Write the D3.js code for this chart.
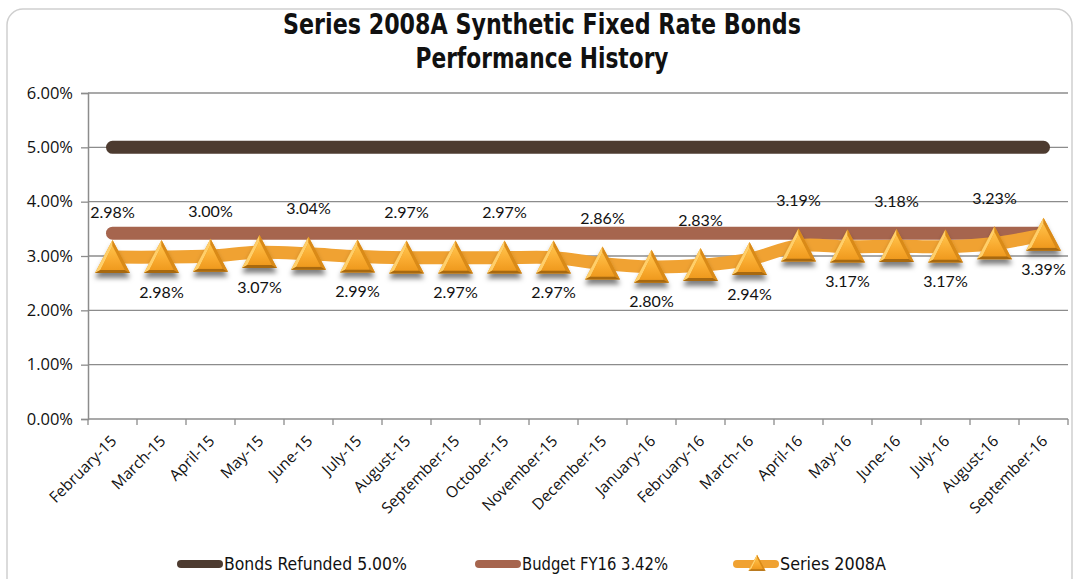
<!DOCTYPE html>
<html>
<head>
<meta charset="utf-8">
<script src="https://cdn.jsdelivr.net/npm/d3@7"></script>
<style>
  body { margin: 0; background: #fff; }
  svg { display: block; }
</style>
</head>
<body>
<svg id="chart" width="1076" height="579"></svg>
<script>

var months = ["February-15", "March-15", "April-15", "May-15", "June-15", "July-15", "August-15",
              "September-15", "October-15", "November-15", "December-15", "January-16", "February-16",
              "March-16", "April-16", "May-16", "June-16", "July-16", "August-16", "September-16"];

var series2008A = [2.98, 2.98, 3.00, 3.07, 3.04, 2.99, 2.97, 2.97, 2.97, 2.97,
                   2.86, 2.80, 2.83, 2.94, 3.19, 3.17, 3.18, 3.17, 3.23, 3.39];

var bondsRefunded = 5.00,
    budgetFY16 = 3.42;

var yTicks = [0, 1, 2, 3, 4, 5, 6];

var legendNames = ["Bonds Refunded 5.00%", "Budget FY16 3.42%", "Series 2008A"];

var colBonds = "#4d3b30",
    colBudget = "#a6654e",
    colSeries = "#f0a232",
    colGrid = "#8c8c8c";

var narrowFont = "'DejaVu Sans Condensed', sans-serif";

var svg = d3.select("#chart"),
    pLeft = 88, pRight = 1068, pTop = 93, pBottom = 419;

var x = d3.scaleBand().domain(months).range([pLeft, pRight]).padding(0),
    y = d3.scaleLinear().domain([0, 6]).range([pBottom, pTop]);

function cx(d) { return x(d) + x.bandwidth() / 2; }

// frame
svg.append("rect")
    .attr("x", 7).attr("y", 9).attr("width", 1065).attr("height", 620)
    .attr("rx", 16)
    .attr("fill", "none").attr("stroke", "#cfcfcf").attr("stroke-width", 1.5);

var defs = svg.append("defs");

var grad = defs.append("linearGradient").attr("id", "triGrad")
    .attr("x1", 0).attr("y1", 0).attr("x2", 0).attr("y2", 1);
grad.append("stop").attr("offset", "0%").attr("stop-color", "#ffc24a");
grad.append("stop").attr("offset", "60%").attr("stop-color", "#f8a92e");
grad.append("stop").attr("offset", "100%").attr("stop-color", "#ef9a1e");

var shadow = defs.append("filter").attr("id", "shadow")
    .attr("x", "-30%").attr("y", "-30%").attr("width", "160%").attr("height", "170%");
shadow.append("feDropShadow").attr("dx", 0).attr("dy", 5).attr("stdDeviation", 2.5)
    .attr("flood-color", "#000").attr("flood-opacity", 0.5);

// title
var title = svg.append("text")
    .attr("text-anchor", "middle")
    .style("font-family", narrowFont)
    .style("font-weight", "bold").style("font-size", "28px").attr("fill", "#111");
title.append("tspan").attr("x", 542).attr("y", 34)
    .attr("textLength", 518).attr("lengthAdjust", "spacingAndGlyphs")
    .text("Series 2008A Synthetic Fixed Rate Bonds");
title.append("tspan").attr("x", 542).attr("y", 68)
    .attr("textLength", 253).attr("lengthAdjust", "spacingAndGlyphs")
    .text("Performance History");

// gridlines
svg.append("g").selectAll("line")
    .data(yTicks.filter(function(t) { return t > 0; }))
    .enter().append("line")
    .attr("x1", pLeft).attr("x2", pRight)
    .attr("y1", function(d) { return y(d); })
    .attr("y2", function(d) { return y(d); })
    .attr("stroke", colGrid).attr("stroke-width", 1.3);

// y axis
var yAxis = svg.append("g")
    .attr("transform", "translate(" + pLeft + ",0)")
    .call(d3.axisLeft(y).tickValues(yTicks).tickSize(7).tickPadding(8)
        .tickFormat(function(d) { return d.toFixed(2) + "%"; }));
yAxis.attr("font-family", "'Open Sans', Lato, sans-serif").attr("font-size", 16.5);
yAxis.select(".domain").attr("stroke", colGrid).attr("stroke-width", 1.5);
yAxis.selectAll(".tick line").attr("stroke", colGrid).attr("stroke-width", 1.3);
yAxis.selectAll(".tick text").attr("fill", "#111");

// x axis line and boundary ticks
var xa = svg.append("g");
xa.append("line").attr("x1", pLeft).attr("x2", pRight).attr("y1", pBottom).attr("y2", pBottom)
    .attr("stroke", colGrid).attr("stroke-width", 1.5);
xa.selectAll(".xt")
    .data(months.concat(["end"]))
    .enter().append("line")
    .attr("class", "xt")
    .attr("x1", function(d, i) { return i < months.length ? x(d) : pRight; })
    .attr("x2", function(d, i) { return i < months.length ? x(d) : pRight; })
    .attr("y1", pBottom).attr("y2", pBottom + 6)
    .attr("stroke", colGrid).attr("stroke-width", 1.3);

xa.selectAll(".xl")
    .data(months)
    .enter().append("text")
    .attr("class", "xl")
    .attr("transform", function(d) { return "translate(" + (cx(d) + 5) + "," + (pBottom + 23) + ") rotate(-45)"; })
    .attr("text-anchor", "end")
    .style("font-family", "'Open Sans', Lato, sans-serif")
    .style("font-size", "15.5px").attr("fill", "#111")
    .text(function(d) { return d; });

// reference lines
var first = cx(months[0]), last = cx(months[months.length - 1]);

svg.append("line")
    .attr("x1", first).attr("x2", last)
    .attr("y1", y(bondsRefunded)).attr("y2", y(bondsRefunded))
    .attr("stroke", colBonds).attr("stroke-width", 13).attr("stroke-linecap", "round");

svg.append("line")
    .attr("x1", first).attr("x2", last)
    .attr("y1", y(budgetFY16)).attr("y2", y(budgetFY16))
    .attr("stroke", colBudget).attr("stroke-width", 13).attr("stroke-linecap", "round");

// series line
var line = d3.line()
    .x(function(d, i) { return cx(months[i]); })
    .y(function(d) { return y(d); })
    .curve(d3.curveCatmullRom.alpha(0.5));

svg.append("path")
    .datum(series2008A)
    .attr("d", line)
    .attr("fill", "none")
    .attr("stroke", colSeries).attr("stroke-width", 13).attr("stroke-linejoin", "round");

// bevelled triangle markers
function tri(w, h, inset) {
    var A = [0, -h * 0.52], B = [w / 2, h * 0.48], C = [-w / 2, h * 0.48];
    var a = [0, A[1] + inset * 2], b = [B[0] - inset * 1.8, B[1] - inset], c = [C[0] + inset * 1.8, C[1] - inset];
    function p(pts) { return "M" + pts.map(function(q) { return q.join(","); }).join("L") + "Z"; }
    return {
        outer: p([A, B, C]),
        left: p([A, a, c, C]),
        right: p([A, B, b, a]),
        bottom: p([C, c, b, B]),
        inner: p([a, b, c])
    };
}

var big = tri(35, 33, 3);

var markers = svg.append("g").selectAll("g")
    .data(series2008A)
    .enter().append("g")
    .attr("transform", function(d, i) { return "translate(" + cx(months[i]) + "," + y(d) + ")"; });

markers.append("path").attr("d", big.outer).attr("fill", "#e6961e").attr("filter", "url(#shadow)");
markers.append("path").attr("d", big.left).attr("fill", "#ffcf6a");
markers.append("path").attr("d", big.right).attr("fill", "#d98a18");
markers.append("path").attr("d", big.bottom).attr("fill", "#a8690f");
markers.append("path").attr("d", big.inner).attr("fill", "url(#triGrad)");

// data labels
svg.append("g").selectAll("text")
    .data(series2008A)
    .enter().append("text")
    .attr("x", function(d, i) { return cx(months[i]); })
    .attr("y", function(d, i) { return i % 2 === 0 ? y(d) - 45 : y(d) + 35; })
    .attr("dy", "0.35em")
    .attr("text-anchor", "middle")
    .style("font-family", "Lato, 'Open Sans', sans-serif")
    .style("font-size", "16px").attr("fill", "#111")
    .text(function(d) { return d.toFixed(2) + "%"; });

// legend
var legendX = [177, 475, 733],
    legendW = [183, 146, 106],
    legendY = 564;

var leg = svg.append("g").selectAll("g")
    .data(legendNames)
    .enter().append("g")
    .attr("transform", function(d, i) { return "translate(" + legendX[i] + "," + legendY + ")"; });

leg.append("line")
    .attr("x1", 4).attr("x2", 42).attr("y1", 0).attr("y2", 0)
    .attr("stroke", function(d, i) { return [colBonds, colBudget, colSeries][i]; })
    .attr("stroke-width", 8)
    .attr("stroke-linecap", "round");

var small = tri(17, 16, 1.5);
var legTri = leg.filter(function(d, i) { return i === 2; })
    .append("g").attr("transform", "translate(24,-1)");
legTri.append("path").attr("d", small.outer).attr("fill", "#e6961e");
legTri.append("path").attr("d", small.left).attr("fill", "#ffcf6a");
legTri.append("path").attr("d", small.right).attr("fill", "#d98a18");
legTri.append("path").attr("d", small.bottom).attr("fill", "#a8690f");
legTri.append("path").attr("d", small.inner).attr("fill", "url(#triGrad)");

leg.append("text")
    .attr("x", 47)
    .attr("y", 0).attr("dy", "0.36em")
    .attr("textLength", function(d, i) { return legendW[i]; })
    .attr("lengthAdjust", "spacingAndGlyphs")
    .style("font-family", narrowFont)
    .style("font-size", "17px").attr("fill", "#111")
    .text(function(d) { return d; });

</script>
</body>
</html>
